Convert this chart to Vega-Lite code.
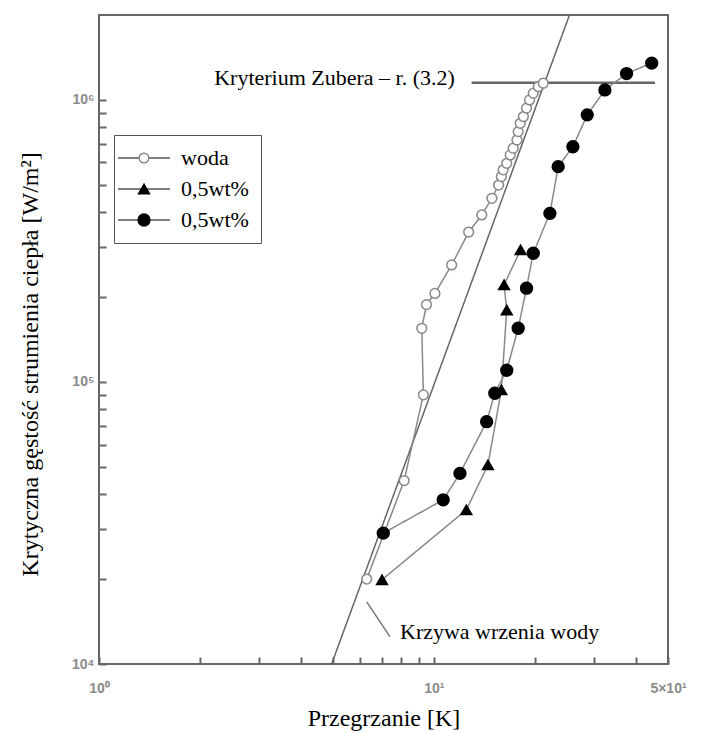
{
  "$schema": "https://vega.github.io/schema/vega-lite/v6.json",
  "width": 569,
  "height": 649,
  "autosize": "none",
  "padding": {"left": 99, "top": 15, "right": 35, "bottom": 69},
  "background": "white",
  "config": {
    "view": {"stroke": "#666", "strokeWidth": 2},
    "axis": {"grid": false, "domain": false}
  },
  "datasets": {
    "pts": [
      {"s": "1_woda", "i": 1, "x": 6.3, "y": 20000},
      {"s": "1_woda", "i": 2, "x": 8.15, "y": 44700},
      {"s": "1_woda", "i": 3, "x": 9.3, "y": 90000},
      {"s": "1_woda", "i": 4, "x": 9.2, "y": 155000},
      {"s": "1_woda", "i": 5, "x": 9.5, "y": 188000},
      {"s": "1_woda", "i": 6, "x": 10.07, "y": 206000},
      {"s": "1_woda", "i": 7, "x": 11.3, "y": 260000},
      {"s": "1_woda", "i": 8, "x": 12.7, "y": 340000},
      {"s": "1_woda", "i": 9, "x": 13.9, "y": 391000},
      {"s": "1_woda", "i": 10, "x": 14.9, "y": 448000},
      {"s": "1_woda", "i": 11, "x": 15.6, "y": 499000},
      {"s": "1_woda", "i": 12, "x": 15.9, "y": 535000},
      {"s": "1_woda", "i": 13, "x": 16.1, "y": 565000},
      {"s": "1_woda", "i": 14, "x": 16.5, "y": 596000},
      {"s": "1_woda", "i": 15, "x": 16.9, "y": 638000},
      {"s": "1_woda", "i": 16, "x": 17.25, "y": 674000},
      {"s": "1_woda", "i": 17, "x": 17.7, "y": 721000},
      {"s": "1_woda", "i": 18, "x": 17.85, "y": 772000},
      {"s": "1_woda", "i": 19, "x": 18.1, "y": 826000},
      {"s": "1_woda", "i": 20, "x": 18.5, "y": 873000},
      {"s": "1_woda", "i": 21, "x": 18.9, "y": 935000},
      {"s": "1_woda", "i": 22, "x": 19.3, "y": 1000000},
      {"s": "1_woda", "i": 23, "x": 19.8, "y": 1056000},
      {"s": "1_woda", "i": 24, "x": 20.5, "y": 1114000},
      {"s": "1_woda", "i": 25, "x": 21.2, "y": 1146000},
      {"s": "2_tri", "i": 1, "x": 7.0, "y": 19900},
      {"s": "2_tri", "i": 2, "x": 12.5, "y": 35200},
      {"s": "2_tri", "i": 3, "x": 14.5, "y": 50800},
      {"s": "2_tri", "i": 4, "x": 15.9, "y": 93700},
      {"s": "2_tri", "i": 5, "x": 16.5, "y": 180000},
      {"s": "2_tri", "i": 6, "x": 16.2, "y": 221000},
      {"s": "2_tri", "i": 7, "x": 18.15, "y": 294000},
      {"s": "3_circ", "i": 1, "x": 7.06, "y": 29100},
      {"s": "3_circ", "i": 2, "x": 10.66, "y": 38200},
      {"s": "3_circ", "i": 3, "x": 11.96, "y": 47400},
      {"s": "3_circ", "i": 4, "x": 14.37, "y": 72300},
      {"s": "3_circ", "i": 5, "x": 15.2, "y": 91200},
      {"s": "3_circ", "i": 6, "x": 16.5, "y": 110000},
      {"s": "3_circ", "i": 7, "x": 17.85, "y": 155000},
      {"s": "3_circ", "i": 8, "x": 18.9, "y": 215000},
      {"s": "3_circ", "i": 9, "x": 19.8, "y": 286000},
      {"s": "3_circ", "i": 10, "x": 22.2, "y": 396000},
      {"s": "3_circ", "i": 11, "x": 23.5, "y": 580000},
      {"s": "3_circ", "i": 12, "x": 26.0, "y": 682000},
      {"s": "3_circ", "i": 13, "x": 28.7, "y": 885000},
      {"s": "3_circ", "i": 14, "x": 32.4, "y": 1085000},
      {"s": "3_circ", "i": 15, "x": 37.6, "y": 1240000},
      {"s": "3_circ", "i": 16, "x": 44.7, "y": 1350000}
    ],
    "curve": [{"x": 4.95, "y": 10000}, {"x": 25.4, "y": 2000000}],
    "zuber": [{"x": 12.96, "y": 1150000}, {"x": 45.7, "y": 1150000}],
    "pointer": [{"x": 6.3, "y": 16600}, {"x": 7.39, "y": 12500}],
    "noteR": [{"x": 11.55, "y": 1200000, "t": "Kryterium Zubera – r. (3.2)"}],
    "noteL": [{"x": 7.92, "y": 13000, "t": "Krzywa wrzenia wody"}]
  },
  "encoding": {
    "x": {
      "field": "x", "type": "quantitative",
      "scale": {"type": "log", "domain": [1, 50], "nice": false},
      "axis": {
        "title": "Przegrzanie [K]",
        "values": [1, 2, 3, 4, 5, 6, 7, 8, 9, 10, 20, 30, 40, 50],
        "labelExpr": "datum.value == 1 ? '10⁰' : datum.value == 10 ? '10¹' : datum.value == 50 ? '5×10¹' : ''",
        "labelOverlap": false, "labelFlush": false,
        "labelFont": "Liberation Sans", "labelFontSize": 14, "labelFontWeight": "bold", "labelColor": "#8a8a8a",
        "labelPadding": 24,
        "tickColor": "#666", "tickWidth": 2,
        "tickSize": -7,
        "titleFont": "Liberation Serif", "titleFontSize": 24, "titleFontWeight": "normal", "titleColor": "#000",
        "titleBaseline": "alphabetic", "titleY": 61
      }
    },
    "y": {
      "field": "y", "type": "quantitative",
      "scale": {"type": "log", "domain": [10000, 2000000], "nice": false},
      "axis": {
        "title": "Krytyczna gęstość strumienia ciepła [W/m²]",
        "values": [10000, 20000, 30000, 40000, 50000, 60000, 70000, 80000, 90000, 100000, 200000, 300000, 400000, 500000, 600000, 700000, 800000, 900000, 1000000],
        "labelExpr": "datum.value == 10000 ? '10⁴' : datum.value == 100000 ? '10⁵' : datum.value == 1000000 ? '10⁶' : ''",
        "labelOverlap": false, "labelFlush": false,
        "labelFont": "Liberation Sans", "labelFontSize": 14, "labelFontWeight": "bold", "labelColor": "#8a8a8a",
        "labelPadding": 12,
        "tickColor": "#666", "tickWidth": 2,
        "tickSize": -7,
        "titleFont": "Liberation Serif", "titleFontSize": 24, "titleFontWeight": "normal", "titleColor": "#000",
        "titleX": -69, "titleY": 349, "titleBaseline": "middle", "titleAngle": -90
      }
    }
  },
  "layer": [
    {
      "data": {"name": "curve"},
      "mark": {"type": "line", "stroke": "#666", "strokeWidth": 1.5, "clip": true},
      "encoding": {}
    },
    {
      "data": {"name": "zuber"},
      "mark": {"type": "line", "stroke": "#666", "strokeWidth": 2.5},
      "encoding": {}
    },
    {
      "data": {"name": "pointer"},
      "mark": {"type": "line", "stroke": "#777", "strokeWidth": 1.5},
      "encoding": {}
    },
    {
      "data": {"name": "pts"},
      "mark": {"type": "line", "stroke": "#888", "strokeWidth": 1.5},
      "encoding": {
        "order": {"field": "i", "type": "quantitative"},
        "strokeDash": {
          "field": "s", "type": "nominal",
          "scale": {"range": [[1, 0], [1, 0], [1, 0]]},
          "legend": {
            "title": null, "orient": "none", "legendX": 15, "legendY": 120,
            "symbolType": "M-2.74,0H2.74", "symbolSize": 361,
            "symbolStrokeColor": "#555", "symbolStrokeWidth": 1.5, "symbolFillColor": "transparent",
            "symbolOffset": 7,
            "strokeColor": "#555", "padding": 12, "rowPadding": 9,
            "labelFont": "Liberation Serif", "labelFontSize": 22, "labelColor": "#000",
            "labelOffset": 26,
            "labelExpr": "datum.label == '1_woda' ? 'woda' : '0,5wt%'"
          }
        }
      }
    },
    {
      "data": {"name": "pts"},
      "mark": {"type": "point", "opacity": 1, "strokeWidth": 1.5},
      "encoding": {
        "shape": {
          "field": "s", "type": "nominal",
          "scale": {"domain": ["1_woda", "2_tri", "3_circ"], "range": ["circle", "triangle-up", "circle"]},
          "legend": {
            "title": null, "orient": "none", "legendX": 22, "legendY": 120,
            "padding": 12, "rowPadding": 9,
            "labelFont": "Liberation Serif", "labelFontSize": 22,
            "labelExpr": "''",
            "symbolStrokeWidth": 1.5
          }
        },
        "fill": {
          "field": "s", "type": "nominal",
          "scale": {"domain": ["1_woda", "2_tri", "3_circ"], "range": ["#ffffff", "#000000", "#000000"]}
        },
        "stroke": {
          "field": "s", "type": "nominal",
          "scale": {"domain": ["1_woda", "2_tri", "3_circ"], "range": ["#888888", "#000000", "#000000"]}
        },
        "size": {
          "field": "s", "type": "nominal",
          "scale": {"domain": ["1_woda", "2_tri", "3_circ"], "range": [95, 140, 150]}
        }
      }
    },
    {
      "data": {"name": "noteR"},
      "mark": {"type": "text", "font": "Liberation Serif", "fontSize": 22, "color": "#000", "baseline": "middle", "align": "right"},
      "encoding": {"text": {"field": "t"}}
    },
    {
      "data": {"name": "noteL"},
      "mark": {"type": "text", "font": "Liberation Serif", "fontSize": 22, "color": "#000", "baseline": "middle", "align": "left"},
      "encoding": {"text": {"field": "t"}}
    }
  ]
}
